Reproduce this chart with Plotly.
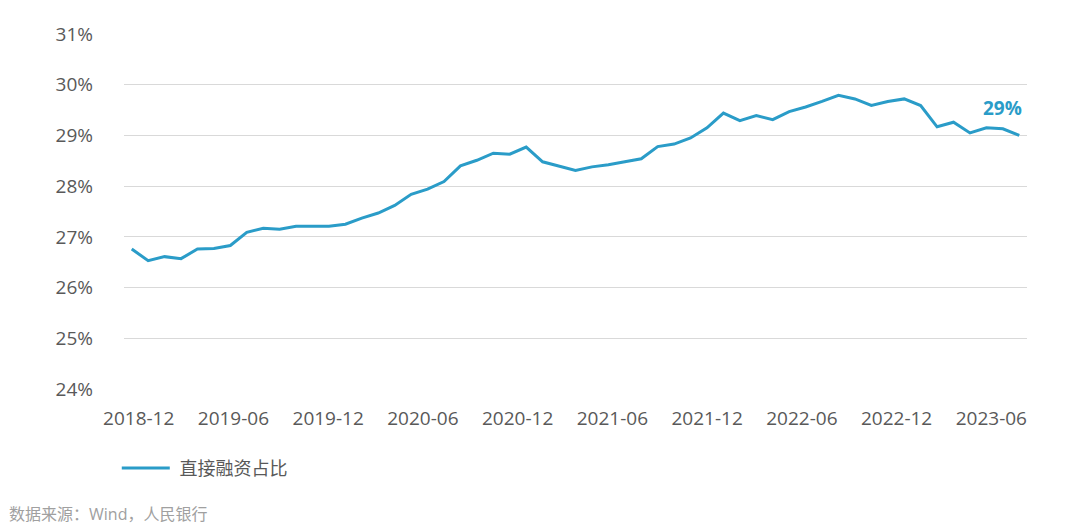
import pandas as pd
import plotly.graph_objects as go

# ---- data ----
months = [p.strftime("%Y-%m") for p in pd.period_range("2018-12", "2023-06", freq="M")]
share = [
    26.76, 26.53, 26.61, 26.57, 26.76, 26.77, 26.83, 27.09, 27.17, 27.15,
    27.21, 27.21, 27.21, 27.25, 27.37, 27.47, 27.62, 27.84, 27.94, 28.09,
    28.40, 28.51, 28.65, 28.63, 28.77, 28.48, 28.39, 28.31, 28.38, 28.42,
    28.48, 28.54, 28.78, 28.83, 28.95, 29.15, 29.44, 29.29, 29.39, 29.31,
    29.47, 29.56, 29.67, 29.79, 29.72, 29.59, 29.67, 29.72, 29.59, 29.17,
    29.26, 29.05, 29.15, 29.13, 29.00,
]
series_name = "直接融资占比"
tick_labels = ["2018-12", "2019-06", "2019-12", "2020-06", "2020-12",
               "2021-06", "2021-12", "2022-06", "2022-12", "2023-06"]
tick_pos = [0, 6, 12, 18, 24, 30, 36, 42, 48, 54]
y_ticks = [24, 25, 26, 27, 28, 29, 30, 31]
y_tick_text = [f"{v}%" for v in y_ticks]
end_label = "29%"
source_text = "数据来源：Wind，人民银行"

LINE = "#2a9cc8"
TEXT = "#595959"
GRID = "#d9d9d9"
FONT = "Open Sans, Noto Sans CJK SC, sans-serif"

idx = list(range(len(share)))

fig = go.Figure()
fig.add_trace(go.Scatter(
    x=idx, y=share, mode="lines", name="\u00a0" + series_name,
    line=dict(color=LINE, width=3),
    customdata=months,
    hovertemplate="%{customdata}: %{y:.2f}%<extra></extra>",
))
# invisible carrier trace so the label axis (x2) is drawn
fig.add_trace(go.Scatter(
    x=tick_pos, y=[y_ticks[0]] * len(tick_pos), xaxis="x2", yaxis="y",
    mode="markers", marker=dict(opacity=0, size=1), hoverinfo="skip",
    showlegend=False,
))

fig.add_annotation(
    x=idx[-1], y=share[-1], xref="x", yref="y", text=f"<b>{end_label}</b>",
    showarrow=False, xanchor="right", yanchor="middle", xshift=5, yshift=27,
    font=dict(size=19, color=LINE, family=FONT),
)
fig.add_annotation(
    x=0, y=0, xref="paper", yref="paper", text=source_text, showarrow=False,
    xanchor="left", yanchor="middle", xshift=-117, yshift=-125,
    font=dict(size=16, color="#a0a0a0", family=FONT),
)

fig.update_layout(
    width=1072, height=521,
    margin=dict(l=116, r=53, t=26, b=140),
    paper_bgcolor="white", plot_bgcolor="white",
    font=dict(family=FONT, color=TEXT, size=19),
    showlegend=True,
    legend=dict(orientation="h", x=-0.008, y=-0.171, xanchor="left", yanchor="top",
                itemwidth=48,
                font=dict(size=18, color=TEXT, family=FONT)),
    xaxis=dict(range=[-0.47, 54.47], showgrid=False, zeroline=False,
               showticklabels=False, ticks="", showline=False),
    xaxis2=dict(overlaying="x", anchor="y", side="bottom", range=[-0.93, 56.26],
                tickmode="array", tickvals=tick_pos, ticktext=tick_labels,
                showgrid=False, zeroline=False, ticks="", showline=False,
                ticklabelstandoff=16, tickfont=dict(size=19, color=TEXT)),
    yaxis=dict(range=[24, 31], tickmode="array", tickvals=y_ticks, ticktext=y_tick_text,
               showgrid=True, gridcolor=GRID, gridwidth=1, zeroline=False,
               showline=False, ticks="", ticklabelstandoff=30,
               tickfont=dict(size=19, color=TEXT)),
)

fig.write_html("out.html")
